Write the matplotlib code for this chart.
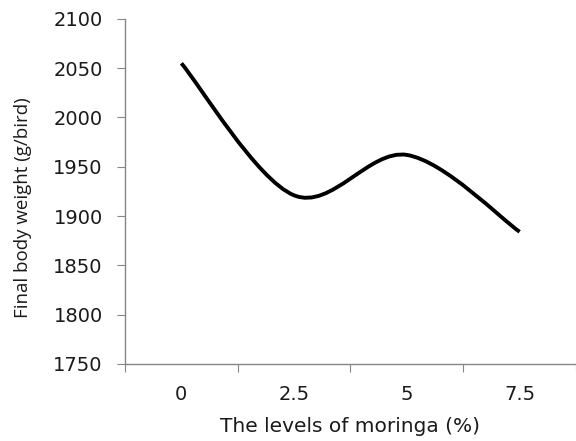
import numpy as np
import matplotlib
matplotlib.use("Agg")
import matplotlib.pyplot as plt
from matplotlib.path import Path
from matplotlib.patches import PathPatch

# Data
levels = ["0", "2.5", "5", "7.5"]
final_weight = [2055, 1921, 1962, 1884]

plt.rcParams["font.family"] = ["DejaVu Sans"]

fig = plt.figure(figsize=(5.76, 4.41), dpi=100)
ax = fig.add_axes([0.217, 0.175, 0.783, 0.782])

# Smoothed line (Excel-style Catmull-Rom through the points)
xs = np.arange(len(levels), dtype=float)
ys = np.array(final_weight, dtype=float)
pts = np.column_stack([xs, ys])
verts = [tuple(pts[0])]
codes = [Path.MOVETO]
for i in range(len(pts) - 1):
    p_prev = pts[i - 1] if i > 0 else pts[i]
    p_next = pts[i + 2] if i + 2 < len(pts) else pts[i + 1]
    c1 = pts[i] + (pts[i + 1] - p_prev) / 6
    c2 = pts[i + 1] - (p_next - pts[i]) / 6
    verts += [tuple(c1), tuple(c2), tuple(pts[i + 1])]
    codes += [Path.CURVE4] * 3
ax.add_patch(PathPatch(Path(verts, codes), facecolor="none",
                       edgecolor="black", linewidth=2.8, capstyle="butt"))

ax.set_xlim(-0.5, 3.5)
ax.set_ylim(1750, 2100)
ax.set_yticks(np.arange(1750, 2101, 50))

# Category axis: tick marks between categories, labels at centres
ax.set_xticks(np.arange(-0.5, 3.6, 1.0))
ax.set_xticklabels([])
ax.set_xticks(xs, minor=True)
ax.set_xticklabels(levels, minor=True)
ax.tick_params(axis="x", which="minor", length=0, pad=15)
ax.tick_params(axis="x", which="major", length=6, color="#868686")
ax.tick_params(axis="y", length=6, color="#868686", pad=10)
ax.tick_params(axis="both", which="both", labelsize=14, labelcolor="#1a1a1a")

for side in ["top", "right"]:
    ax.spines[side].set_visible(False)
for side in ["left", "bottom"]:
    ax.spines[side].set_color("#868686")
    ax.spines[side].set_linewidth(1.0)

ax.set_xlabel("The levels of moringa (%)", fontsize=14.5, va="center",
              color="#1a1a1a")
ax.xaxis.set_label_coords(0.5, -0.183)
ax.set_ylabel("Final body weight (g/bird)", fontsize=13.5, va="center",
              family=["Open Sans", "DejaVu Sans"], color="#1a1a1a")
ax.yaxis.set_label_coords(-0.226, 0.452)

fig.savefig("out.png", dpi=100)
